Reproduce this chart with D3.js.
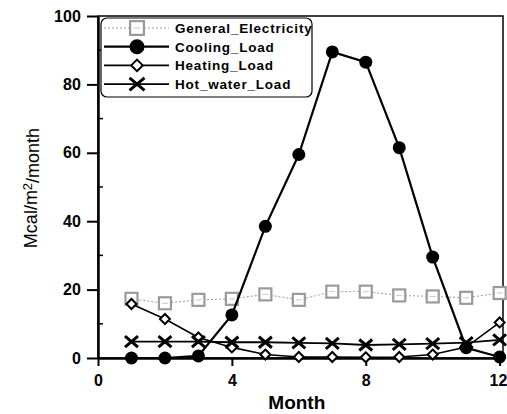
<!DOCTYPE html>
<html>
<head>
<meta charset="utf-8">
<script src="https://cdn.jsdelivr.net/npm/d3@7"></script>
<style>
  body { margin: 0; background: #fff; }
  svg text { font-family: Arial, "Liberation Sans", sans-serif; }
</style>
</head>
<body>
<svg id="chart" width="507" height="414"></svg>
<script>
const months = [1, 2, 3, 4, 5, 6, 7, 8, 9, 10, 11, 12]
const generalElectricity = [17.3, 16, 17, 17.3, 18.6, 17, 19.4, 19.4, 18.3, 18, 17.6, 19]
const coolingLoad = [0, 0, 0.6, 12.6, 38.5, 59.5, 89.5, 86.5, 61.5, 29.5, 3, 0.3]
const heatingLoad = [15.8, 11.4, 6, 3.1, 1, 0.3, 0.3, 0.2, 0.3, 1, 3.2, 10.4]
const hotWaterLoad = [4.8, 4.8, 4.8, 4.6, 4.6, 4.4, 4.3, 3.8, 4, 4.2, 4.5, 5.3]
const xTicks = [0, 4, 8, 12]
const xMinorTicks = [2, 6, 10]
const yTicks = [0, 20, 40, 60, 80, 100]
const yMinorTicks = [10, 30, 50, 70, 90]

const series = [
  { name: 'General_Electricity', values: generalElectricity, marker: 'square', color: '#9a9a9a', width: 1, dash: '2,2' },
  { name: 'Cooling_Load', values: coolingLoad, marker: 'circle', color: '#000', width: 2.2, dash: null },
  { name: 'Heating_Load', values: heatingLoad, marker: 'diamond', color: '#000', width: 1.6, dash: null },
  { name: 'Hot_water_Load', values: hotWaterLoad, marker: 'cross', color: '#000', width: 1.8, dash: null },
]

const svg = d3.select('#chart')
const m = { left: 98, right: 4, top: 16, bottom: 56 }
const W = 507, H = 414

const x = d3.scaleLinear([0, 12.1], [m.left, W - m.right])
const y = d3.scaleLinear([0, 100], [H - m.bottom, m.top])

// frame
svg.append('rect')
  .attr('x', x(0)).attr('y', y(100))
  .attr('width', x(12.1) - x(0)).attr('height', y(0) - y(100))
  .attr('fill', 'none').attr('stroke', '#000').attr('stroke-width', 1.5)

// axes
const xAxis = svg.append('g')
  .attr('transform', `translate(0,${ y(0) })`)
  .call(d3.axisBottom(x).tickValues(xTicks).tickSize(8).tickSizeOuter(0).tickFormat(d3.format('d')))
xAxis.select('.domain').attr('stroke-width', 2.5)
xAxis.selectAll('.tick line').attr('stroke-width', 2)
xAxis.selectAll('.tick text').attr('dy', '1.05em').style('font-size', '16px').style('font-weight', 'bold')
xAxis.selectAll('.tick').filter((d) => d === 12).select('text').attr('text-anchor', 'end').attr('dx', '0.45em')

svg.append('g')
  .attr('transform', `translate(0,${ y(0) })`)
  .selectAll('line')
  .data(xMinorTicks)
  .join('line')
  .attr('x1', (d) => x(d)).attr('x2', (d) => x(d))
  .attr('y1', 0).attr('y2', -5)
  .attr('stroke', '#000').attr('stroke-width', 1.5)

const yAxis = svg.append('g')
  .attr('transform', `translate(${ x(0) },0)`)
  .call(d3.axisLeft(y).tickValues(yTicks).tickSize(11).tickSizeOuter(0))
yAxis.select('.domain').attr('stroke-width', 2.5)
yAxis.selectAll('.tick line').attr('stroke-width', 2)
yAxis.selectAll('.tick text').attr('dx', '-0.2em').style('font-size', '16px').style('font-weight', 'bold')

svg.append('g')
  .attr('transform', `translate(${ x(0) },0)`)
  .selectAll('line')
  .data(yMinorTicks)
  .join('line')
  .attr('x1', 0).attr('x2', 5)
  .attr('y1', (d) => y(d)).attr('y2', (d) => y(d))
  .attr('stroke', '#000').attr('stroke-width', 1.5)

// axis titles
svg.append('text')
  .attr('x', (x(0) + x(12)) / 2 - 2)
  .attr('y', 409)
  .attr('text-anchor', 'middle')
  .style('font-size', '19px').style('font-weight', 'bold')
  .text('Month')

const yTitle = svg.append('text')
  .attr('transform', `translate(37,${ (y(0) + y(100)) / 2 + 1 }) rotate(-90)`)
  .attr('text-anchor', 'middle')
  .style('font-size', '18px')
yTitle.append('tspan').text('Mcal/m')
yTitle.append('tspan').attr('dy', '-0.4em').style('font-size', '13px').text('2')
yTitle.append('tspan').attr('dy', '0.4em').text('/month')

// markers
function drawMarker (g, type, color, k = 1) {
  if (type === 'square') {
    g.append('rect').attr('x', -6 * k).attr('y', -6 * k).attr('width', 12 * k).attr('height', 12 * k)
      .attr('fill', '#fff').attr('stroke', color).attr('stroke-width', 2.2)
    g.append('line').attr('x1', -3 * k).attr('x2', 3 * k).attr('y1', 0).attr('y2', 0)
      .attr('stroke', '#c8c8c8').attr('stroke-width', 1)
  } else if (type === 'circle') {
    g.append('circle').attr('r', 6.5 * k).attr('fill', '#000')
  } else if (type === 'diamond') {
    g.append('path').attr('d', `M0,${ -5 * k }L${ 5 * k },0L0,${ 5 * k }L${ -5 * k },0Z`)
      .attr('fill', '#fff').attr('stroke', '#000').attr('stroke-width', 2)
  } else if (type === 'cross') {
    g.append('path').attr('d', `M${ -6.5 * k },${ -5.5 * k }L${ 6.5 * k },${ 5.5 * k }M${ -6.5 * k },${ 5.5 * k }L${ 6.5 * k },${ -5.5 * k }`)
      .attr('stroke', '#000').attr('stroke-width', 3).attr('fill', 'none')
  }
}

const line = d3.line().x((d) => x(d[0])).y((d) => y(d[1]))

const order = [0, 2, 3, 1]
order.forEach((i) => {
  const s = series[i]
  const pts = months.map((mo, k) => [mo, s.values[k]])
  const g = svg.append('g')
  g.append('path')
    .attr('d', line(pts))
    .attr('fill', 'none')
    .attr('stroke', s.color)
    .attr('stroke-width', s.width)
    .attr('stroke-dasharray', s.dash)
  g.selectAll('g.pt')
    .data(pts)
    .join('g')
    .classed('pt', true)
    .attr('transform', (d) => `translate(${ x(d[0]) },${ y(d[1]) })`)
    .each(function () { drawMarker(d3.select(this), s.marker, s.color) })
})

// legend
const legend = svg.append('g').attr('transform', 'translate(101,18)')
legend.append('rect')
  .attr('width', 211).attr('height', 79).attr('rx', 6)
  .attr('fill', '#fff').attr('stroke', '#000').attr('stroke-width', 1.2)
series.forEach((s, i) => {
  const row = legend.append('g').attr('transform', `translate(0,${ 10 + i * 18.7 })`)
  row.append('line')
    .attr('x1', 3).attr('x2', 68).attr('y1', 0).attr('y2', 0)
    .attr('stroke', s.color).attr('stroke-width', s.width)
    .attr('stroke-dasharray', s.dash)
  const mk = row.append('g').attr('transform', 'translate(36,0)')
  drawMarker(mk, s.marker, s.color, 1.15)
  row.append('text')
    .attr('x', 74).attr('y', 0).attr('dy', '0.36em')
    .style('font-size', '13.5px').style('font-weight', 'bold').style('letter-spacing', '0.8px')
    .text(s.name)
})
</script>
</body>
</html>
